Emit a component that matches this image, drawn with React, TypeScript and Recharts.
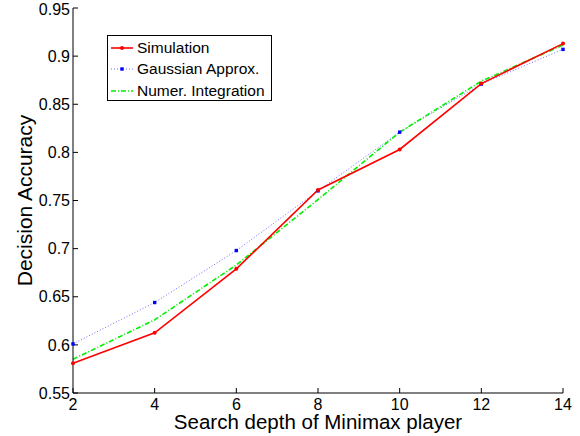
import { LineChart, Line, XAxis, YAxis, Legend } from "recharts"

const depths = [2, 4, 6, 8, 10, 12, 14]
const simulation = [0.581, 0.6125, 0.679, 0.761, 0.803, 0.8715, 0.913]
const gaussianApprox = [0.601, 0.644, 0.698, 0.76, 0.821, 0.871, 0.907]
const numerIntegration = [0.585, 0.626, 0.683, 0.751, 0.821, 0.874, 0.9115]

const xTicks = [2, 4, 6, 8, 10, 12, 14]
const yTicks = [0.55, 0.6, 0.65, 0.7, 0.75, 0.8, 0.85, 0.9, 0.95]

const FONT = "'Liberation Sans', Arial, Helvetica, sans-serif"

const data = depths.map((d, i) => ({
  depth: d,
  sim: simulation[i],
  gauss: gaussianApprox[i],
  numer: numerIntegration[i],
}))

const series = [
  { key: "sim", name: "Simulation", color: "#ff0000", width: 1.6, dash: undefined, marker: "dot" },
  { key: "gauss", name: "Gaussian Approx.", color: "#6f6fff", width: 1, dash: "1 2", marker: "square" },
  { key: "numer", name: "Numer. Integration", color: "#00ee00", width: 1.6, dash: "5 2 1 2", marker: "none" },
]

function RedDot(props: any) {
  const { cx, cy } = props
  if (cx == null || cy == null) return null
  return <circle cx={cx} cy={cy} r={2} fill="#ff0000" />
}

function BlueSquare(props: any) {
  const { cx, cy } = props
  if (cx == null || cy == null) return null
  return <rect x={cx - 1.7} y={cy - 1.7} width={3.4} height={3.4} fill="#0000ff" />
}

function LegendBox() {
  return (
    <div
      style={{
        border: "1px solid #000",
        background: "#fff",
        width: 163,
        height: 63,
        fontFamily: FONT,
        fontSize: 15.5,
        color: "#000",
        paddingTop: 1,
        boxSizing: "content-box",
      }}
    >
      {series.map((s) => (
        <div key={s.key} style={{ display: "flex", alignItems: "center", height: 21.5 }}>
          <svg width={26} height={10} style={{ marginLeft: 2, marginRight: 1 }}>
            <line
              x1={1}
              x2={23}
              y1={5}
              y2={5}
              stroke={s.color}
              strokeWidth={s.width}
              strokeDasharray={s.dash}
            />
            {s.marker === "dot" && <circle cx={12} cy={5} r={2} fill="#ff0000" />}
            {s.marker === "square" && <rect x={10.3} y={3.3} width={3.4} height={3.4} fill="#0000ff" />}
          </svg>
          <span style={{ whiteSpace: "nowrap" }}>{s.name}</span>
        </div>
      ))}
    </div>
  )
}

const fmt = (v: number) => String(+v.toFixed(2))

export default function App() {
  return (
    <div style={{ position: "absolute", left: 0, top: 0, width: 580, height: 436, background: "#fff" }}>
      <LineChart width={580} height={436} data={data} margin={{ top: 8, right: 17, bottom: 0, left: 0 }}>
        <XAxis
          xAxisId="b"
          dataKey="depth"
          type="number"
          domain={[2, 14]}
          ticks={xTicks}
          height={43}
          stroke="#000"
          tickSize={-5}
          tickMargin={11}
          tick={{ fill: "#000", fontSize: 16, fontFamily: FONT }}
          label={{
            content: ({ viewBox }: any) => (
              <text
                x={viewBox.x + viewBox.width / 2}
                y={viewBox.y + 36}
                textAnchor="middle"
                fontFamily={FONT}
                fontSize={20.5}
                fill="#000"
              >
                Search depth of Minimax player
              </text>
            ),
          }}
        />
        <XAxis
          xAxisId="t"
          dataKey="depth"
          type="number"
          orientation="top"
          domain={[2, 14]}
          ticks={xTicks}
          height={0}
          stroke="#000"
          tickSize={-5}
          tickFormatter={() => ""}
        />
        <YAxis
          yAxisId="l"
          type="number"
          domain={[0.55, 0.95]}
          ticks={yTicks}
          width={73}
          stroke="#000"
          tickSize={-5}
          tickMargin={8}
          tickFormatter={fmt}
          tick={{ fill: "#000", fontSize: 16, fontFamily: FONT }}
          label={{
            content: ({ viewBox }: any) => (
              <text
                x={24}
                y={viewBox.y + viewBox.height / 2}
                transform={`rotate(-90, 24, ${viewBox.y + viewBox.height / 2})`}
                textAnchor="middle"
                dominantBaseline="central"
                fontFamily={FONT}
                fontSize={21}
                fill="#000"
              >
                Decision Accuracy
              </text>
            ),
          }}
        />
        <YAxis
          yAxisId="r"
          orientation="right"
          type="number"
          domain={[0.55, 0.95]}
          ticks={yTicks}
          width={0}
          stroke="#000"
          tickSize={-5}
          tickFormatter={() => ""}
        />
        <Legend
          layout="vertical"
          align="center"
          verticalAlign="middle"
          content={() => <LegendBox />}
          wrapperStyle={{ left: 107, top: 35, width: 165, height: 65 }}
        />
        <Line
          xAxisId="b"
          yAxisId="l"
          dataKey="gauss"
          name="Gaussian Approx."
          stroke="#6f6fff"
          strokeWidth={1}
          strokeDasharray="1 2"
          dot={<BlueSquare />}
          activeDot={false}
          isAnimationActive={false}
          type="linear"
        />
        <Line
          xAxisId="b"
          yAxisId="l"
          dataKey="numer"
          name="Numer. Integration"
          stroke="#00ee00"
          strokeWidth={1.6}
          strokeDasharray="5 2 1 2"
          dot={false}
          activeDot={false}
          isAnimationActive={false}
          type="linear"
        />
        <Line
          xAxisId="b"
          yAxisId="l"
          dataKey="sim"
          name="Simulation"
          stroke="#ff0000"
          strokeWidth={1.6}
          dot={<RedDot />}
          activeDot={false}
          isAnimationActive={false}
          type="linear"
        />
      </LineChart>
    </div>
  )
}
